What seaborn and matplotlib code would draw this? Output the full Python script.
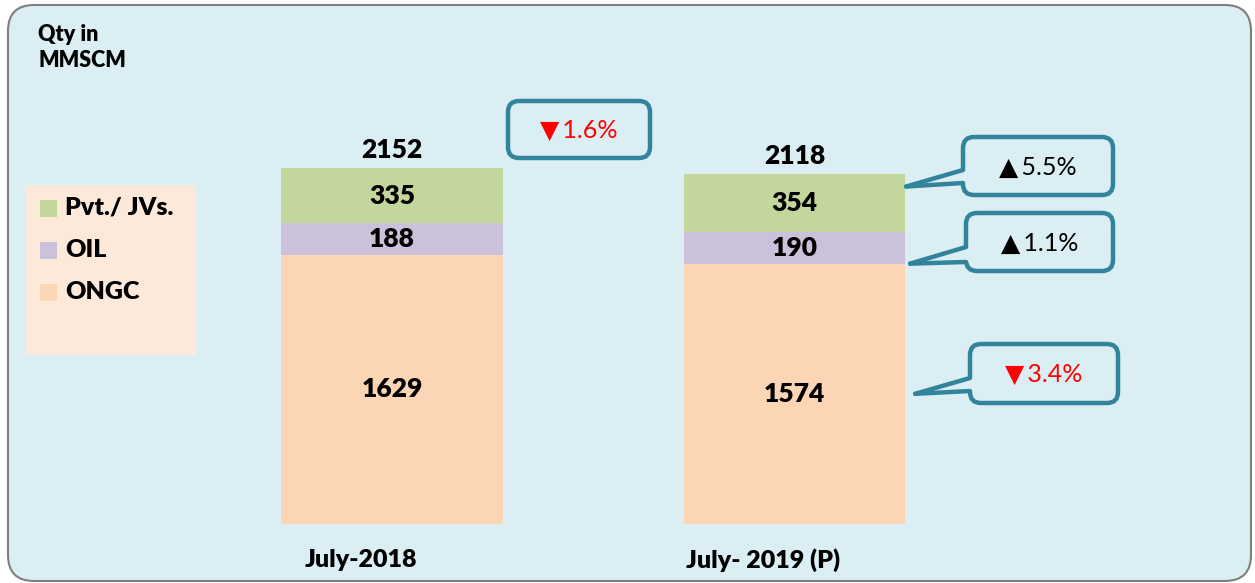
import matplotlib
matplotlib.use("Agg")
import matplotlib.pyplot as plt
from matplotlib.patches import FancyBboxPatch, Rectangle, Polygon
import seaborn as sns

# Gas production, July (qty in MMSCM)
categories = ["July-2018", "July- 2019 (P)"]
ongc = [1629, 1574]
oil = [188, 190]
pvt = [335, 354]
totals = [2152, 2118]
series_names = ["Pvt./ JVs.", "OIL", "ONGC"]
growth_total = "1.6%"
growth_pvt = "5.5%"
growth_oil = "1.1%"
growth_ongc = "3.4%"

sns.set_style("white")
plt.rcParams['font.family'] = ['Lato', 'DejaVu Sans']
plt.rcParams['text.color'] = 'black'

GREEN = "#C3D69B"
PURPLE = "#CCC1DA"
PEACH = "#FCD5B5"
BG = "#DAEEF3"
TEAL = "#31849B"
W, H = 1255, 583
BOLD = "heavy"

fig = plt.figure(figsize=(W / 100, H / 100), dpi=100)

# background layer, pixel coordinates (origin top-left)
bg = fig.add_axes([0, 0, 1, 1], zorder=0)
bg.set_xlim(0, W)
bg.set_ylim(H, 0)
bg.axis("off")
bg.add_patch(FancyBboxPatch((8, 5), 1243, 576, boxstyle="round,pad=0,rounding_size=26",
                            fc=BG, ec="#7F7F7F", lw=1.5))

# chart axes
ax = fig.add_axes([150.5 / W, 59 / H, 885.5 / W, 397 / H], zorder=1)
ax.patch.set_alpha(0)
cum_oil = [a + b for a, b in zip(ongc, oil)]
for vals, col in [(totals, GREEN), (cum_oil, PURPLE), (ongc, PEACH)]:
    sns.barplot(x=categories, y=vals, color=col, saturation=1, width=0.55,
                linewidth=0, ax=ax)
ax.set_xlim(-0.6, 1.6)
ax.set_ylim(0, 2400)
ax.set_xticks([])
ax.set_yticks([])
ax.set_xlabel("")
for s in ax.spines.values():
    s.set_visible(False)

for i in range(len(categories)):
    ax.annotate(str(totals[i]), (i, totals[i]), xytext=(0, 4), textcoords="offset points",
                ha="center", va="bottom", fontsize=19, fontweight=BOLD)
    ax.text(i, cum_oil[i] + pvt[i] / 2, str(pvt[i]), ha="center", va="center",
            fontsize=19, fontweight=BOLD)
    ax.text(i, ongc[i] + oil[i] / 2, str(oil[i]), ha="center", va="center",
            fontsize=19, fontweight=BOLD)
    ax.text(i, ongc[i] / 2, str(ongc[i]), ha="center", va="center",
            fontsize=19, fontweight=BOLD)
    ax.annotate(categories[i], (i, 0), xytext=(-22.5, -26), textcoords="offset points",
                ha="center", va="center", fontsize=18, fontweight=BOLD,
                annotation_clip=False)

# foreground layer: title, legend, callouts
fg = fig.add_axes([0, 0, 1, 1], zorder=2)
fg.set_xlim(0, W)
fg.set_ylim(H, 0)
fg.axis("off")
fg.patch.set_alpha(0)

fg.text(38, 24, "Qty in\nMMSCM", ha="left", va="top", fontsize=15.5,
        fontweight=BOLD, linespacing=1.3)

fg.add_patch(Rectangle((25, 185), 171, 170, fc="#FDE9D9", ec="none"))
for name, col, yc in zip(series_names, [GREEN, PURPLE, PEACH], [208, 250, 292]):
    fg.add_patch(Rectangle((40, yc - 8.5), 17, 17, fc=col, ec="none"))
    fg.text(65, yc, name, ha="left", va="center", fontsize=18, fontweight=BOLD)


def to_px(x, y):
    dx, dy = ax.transData.transform((x, y))
    return dx, H - dy


def callout(box, text, up, tip=None, base=None):
    x0, y0, x1, y1 = box
    fg.add_patch(FancyBboxPatch((x0, y0), x1 - x0, y1 - y0,
                                boxstyle="round,pad=0,rounding_size=11",
                                fc=BG, ec=TEAL, lw=3.2, zorder=2))
    if tip is not None:
        ya, yb = base
        fg.add_patch(Polygon([tip, (x0, ya), (x0 + 7, ya), (x0 + 7, yb), (x0, yb)],
                             closed=True, fc=BG, ec="none", zorder=3))
        for yy in (ya, yb):
            fg.plot([tip[0], x0], [tip[1], yy], color=TEAL, lw=3.2,
                    solid_capstyle="round", zorder=4)
    col = "black" if up else "#FF0000"
    sym = "\u25B2" if up else "\u25BC"
    fg.text((x0 + x1) / 2, (y0 + y1) / 2 + 1, sym + "\u2009" + text, ha="center",
            va="center", fontsize=18, color=col, zorder=5)


half = 0.55 / 2
callout((508, 101, 650, 158), growth_total, up=False)
tx, ty = to_px(1 + half, totals[1] - 0.22 * pvt[1])
callout((963, 137, 1113, 195), growth_pvt, up=True, tip=(tx + 1, ty), base=(170, 183))
tx, ty = to_px(1 + half, ongc[1])
callout((966, 213, 1113, 271), growth_oil, up=True, tip=(tx + 5, ty), base=(247, 262))
tx, ty = to_px(1 + half, ongc[1] / 2)
callout((970, 344, 1118, 403), growth_ongc, up=False, tip=(tx + 10, ty), base=(378, 391))

fig.savefig("out.png", dpi=100, facecolor="white")
